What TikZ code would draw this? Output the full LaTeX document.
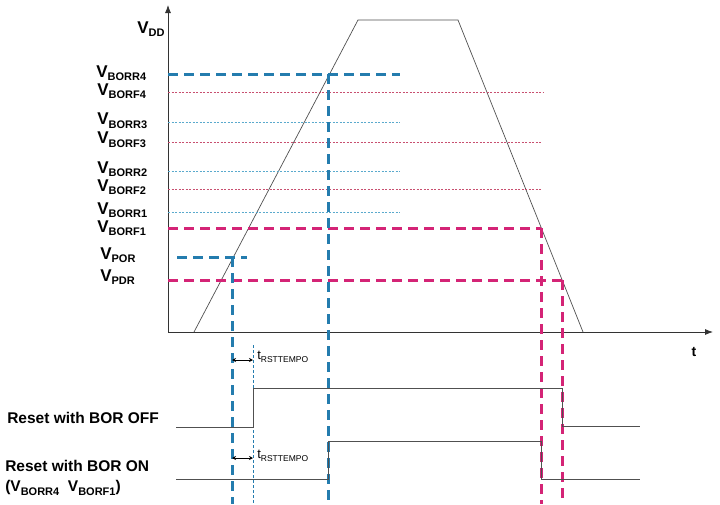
\documentclass[tikz,border=0pt]{standalone}
\usepackage{fontspec}
\setmainfont{Liberation Sans}
\usetikzlibrary{arrows,arrows.meta}

\definecolor{borblue}{RGB}{36,124,174}
\definecolor{bormag}{RGB}{212,36,118}
\definecolor{thinblue}{RGB}{90,170,205}
\definecolor{thinred}{RGB}{200,80,112}
\definecolor{wavegray}{RGB}{80,80,80}

\newcommand{\vlabel}[1]{\textbf{\fontsize{17}{17}\selectfont V\raisebox{-0.4ex}{\fontsize{11}{11}\selectfont #1}}}
\newcommand{\vsmall}[1]{\textbf{V\raisebox{-0.4ex}{\fontsize{11}{11}\selectfont #1}}}
\newcommand{\trst}{{\fontsize{13}{13}\selectfont t\raisebox{-0.35ex}{\fontsize{8.5}{8.5}\selectfont RSTTEMPO}}}

\begin{document}
\begin{tikzpicture}[x=1pt,y=-1pt,semithick]
  \tikzstyle{axis}=[draw=black!80,line width=0.8pt,-{Latex[length=8pt,width=6pt]}]
  \tikzstyle{supply}=[draw=wavegray,line width=0.7pt]
  \tikzstyle{wave}=[draw=wavegray,line width=0.8pt]
  \tikzstyle{bluedash}=[draw=borblue,line width=3pt,dash pattern=on 10pt off 6pt]
  \tikzstyle{magdash}=[draw=bormag,line width=3pt,dash pattern=on 10pt off 6pt]
  \tikzstyle{bluedot}=[draw=thinblue,line width=0.6pt,dash pattern=on 2pt off 1.5pt]
  \tikzstyle{reddot}=[draw=thinred,line width=0.6pt,dash pattern=on 2pt off 1.5pt]
  \tikzstyle{tempo}=[draw=borblue,line width=0.8pt,dash pattern=on 3pt off 2pt]
  \tikzstyle{level}=[anchor=west,inner sep=0pt]
  \tikzstyle{sig}=[anchor=west,inner sep=0pt,font=\bfseries\fontsize{15.5}{17}\selectfont]

  \useasboundingbox (0,0) rectangle (720,504);

  % axes
  \coordinate (O) at (168,332);
  \coordinate (ytop) at (168,5);
  \coordinate (xend) at (713,332);
  \draw[axis] (O) -- (ytop);
  \draw[axis] (O) -- (xend);
  \node[level] (vdd) at (137,29) {\vlabel{DD}};
  \node (t) at (694,352) {\textbf{\fontsize{14}{14}\selectfont t}};

  % supply ramp
  \coordinate (r0) at (194,332);
  \coordinate (r1) at (358,20);
  \coordinate (f1) at (458,20);
  \coordinate (f0) at (583,332);
  \draw[supply] (r0) -- (r1) -- (f1) -- (f0);

  % thresholds
  \node[level] (borr4) at (96,73) {\vlabel{BORR4}};
  \node[level] (borf4) at (97,91) {\vlabel{BORF4}};
  \node[level] (borr3) at (97,121) {\vlabel{BORR3}};
  \node[level] (borf3) at (97,140) {\vlabel{BORF3}};
  \node[level] (borr2) at (97,169) {\vlabel{BORR2}};
  \node[level] (borf2) at (97,187) {\vlabel{BORF2}};
  \node[level] (borr1) at (97,210) {\vlabel{BORR1}};
  \node[level] (borf1) at (97,228) {\vlabel{BORF1}};
  \node[level] (por) at (100,255) {\vlabel{POR}};
  \node[level] (pdr) at (100,277) {\vlabel{PDR}};

  \draw[reddot] (168,92) -- (543,92);
  \draw[bluedot] (168,122) -- (400,122);
  \draw[reddot] (168,142) -- (541,142);
  \draw[bluedot] (168,171) -- (400,171);
  \draw[reddot] (168,189) -- (541,189);
  \draw[bluedot] (168,212) -- (400,212);

  \coordinate (porX) at (232,257);
  \coordinate (borr4X) at (328,74);
  \coordinate (borf1X) at (541,228);
  \coordinate (pdrX) at (562,280);

  \draw[bluedash] (177,257) -- (247,257);
  \draw[bluedash] (168,74) -- (400,74);
  \draw[magdash] (168,228) -- (borf1X);
  \draw[magdash] (168,280) -- (pdrX);

  \draw[bluedash] (porX) -- (232,504);
  \draw[bluedash] (borr4X) -- (328,504);
  \draw[magdash] (borf1X) -- (541,504);
  \draw[magdash] (pdrX) -- (562,504);
  \draw[tempo] (253,345) -- (253,504);

  % reset delay
  \draw[{Stealth[length=4pt,width=4pt]}-{Stealth[length=4pt,width=4pt]},line width=0.7pt] (232,360) -- (253,360);
  \node[level] (tr1) at (257,357) {\trst};
  \draw[{Stealth[length=4pt,width=4pt]}-{Stealth[length=4pt,width=4pt]},line width=0.7pt] (232,458) -- (253,458);
  \node[level] (tr2) at (257,456) {\trst};

  % reset outputs
  \node[sig] (off) at (7,418) {Reset with BOR OFF};
  \node[sig] (on) at (5,466) {Reset with BOR ON};
  \node[sig] (onsub) at (5,488) {(\vsmall{BORR4}\ \ \vsmall{BORF1})};

  \draw[wave] (176,427) -- (253,427) -- (253,388) -- (562,388) -- (562,426) -- (640,426);
  \draw[wave] (176,479) -- (328,479) -- (328,441) -- (541,441) -- (541,479) -- (640,479);
\end{tikzpicture}
\end{document}
